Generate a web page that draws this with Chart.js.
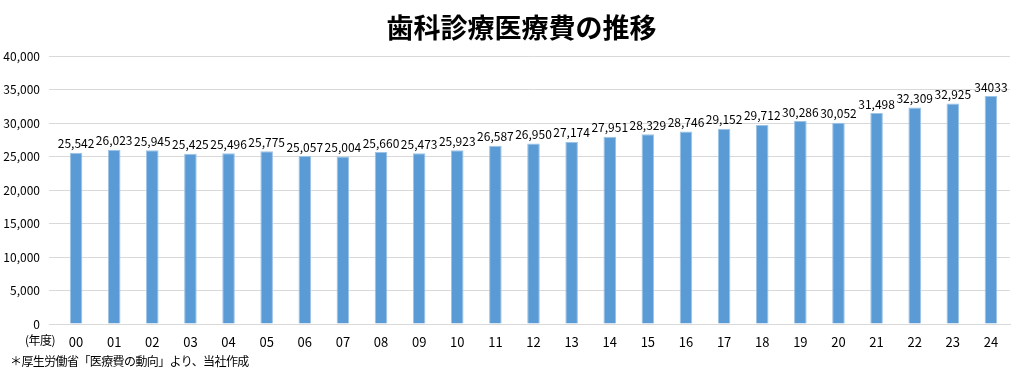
<!DOCTYPE html>
<html lang="ja">
<head>
<meta charset="utf-8">
<script src="https://cdn.jsdelivr.net/npm/chart.js@4"></script>
<style>
  html, body { margin: 0; padding: 0; background: #fff; }
  #wrap { position: relative; width: 1033px; height: 372px; font-family: "Noto Sans CJK JP", sans-serif; }
  #title { position: absolute; left: 0; top: 7px; width: 1043px; text-align: center; font-size: 27px; font-weight: bold; color: #000; }
  #unit { position: absolute; left: 25px; top: 331px; font-size: 12px; color: #000; letter-spacing: -0.5px; }
  #note { position: absolute; left: 10px; top: 352px; font-size: 12px; color: #000; letter-spacing: -0.6px; }
</style>
</head>
<body>
<div id="wrap">
  <canvas id="chart" width="1033" height="372"></canvas>
  <div id="title">歯科診療医療費の推移</div>
  <div id="unit">(年度)</div>
  <div id="note">＊厚生労働省「医療費の動向」より、当社作成</div>
</div>
<script>
const years = ["00","01","02","03","04","05","06","07","08","09","10","11","12",
               "13","14","15","16","17","18","19","20","21","22","23","24"];
const costs = [25542, 26023, 25945, 25425, 25496, 25775, 25057, 25004, 25660, 25473,
               25923, 26587, 26950, 27174, 27951, 28329, 28746, 29152, 29712, 30286,
               30052, 31498, 32309, 32925, 34033];
const noCommaIdx = [24];   // source label printed without a comma
const yMax = 40000;
const yStep = 5000;

const valueLabels = {
    id: "valueLabels",
    afterDatasetsDraw(chart) {
        const ctx = chart.ctx;
        const meta = chart.getDatasetMeta(0);
        ctx.save();
        ctx.font = "12px 'Noto Sans CJK JP', sans-serif";
        ctx.fillStyle = "#000";
        ctx.textAlign = "center";
        ctx.textBaseline = "bottom";
        meta.data.forEach(function(bar, i) {
            const v = costs[i];
            const txt = noCommaIdx.includes(i) ? String(v) : v.toLocaleString("en-US");
            ctx.fillText(txt, bar.x, bar.y - 3);
        });
        ctx.restore();
    }
};

new Chart(document.getElementById("chart").getContext("2d"), {
    type: "bar",
    data: {
        labels: years,
        datasets: [{
            data: costs,
            backgroundColor: "#5B9BD5",
            borderColor: "#9DC3E6",
            borderWidth: { left: 1, right: 1, top: 1, bottom: 0 },
            barPercentage: 0.33,
            categoryPercentage: 1
        }]
    },
    options: {
        responsive: false,
        animation: false,
        layout: { padding: { top: 56, right: 23, bottom: 22, left: 0 } },
        plugins: {
            legend: { display: false },
            title: { display: false },
            tooltip: { enabled: false }
        },
        scales: {
            x: {
                grid: { display: false },
                border: { display: true, color: "#d9d9d9", width: 1 },
                ticks: { color: "#000", font: { size: 13, family: "'Noto Sans CJK JP', sans-serif" }, padding: 2 },
                afterFit(scale) { scale.height = 26; }
            },
            y: {
                min: 0,
                max: yMax,
                grid: { color: "#d9d9d9" },
                border: { display: false },
                ticks: {
                    stepSize: yStep,
                    color: "#000",
                    padding: 9,
                    font: { size: 12, family: "'Noto Sans CJK JP', sans-serif" },
                    callback: function(v) { return v.toLocaleString("en-US"); }
                },
                afterFit(scale) { scale.width = 57; }
            }
        }
    },
    plugins: [valueLabels]
});
</script>
</body>
</html>
